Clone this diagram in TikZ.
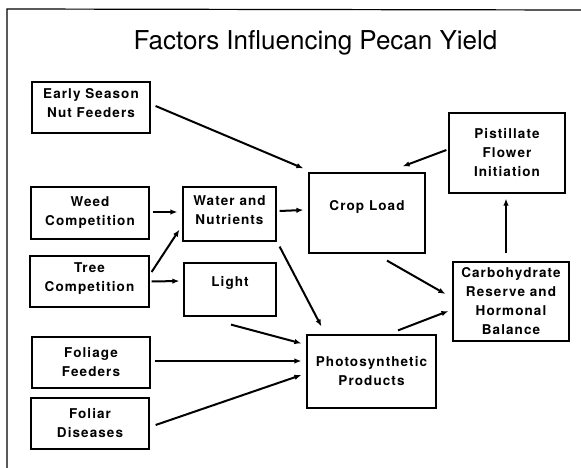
\documentclass[tikz,border=0pt]{standalone}
\usepackage{fontspec}
\setmainfont{TeX Gyre Heros}
\newfontfamily\boxfont[LetterSpace=8]{TeX Gyre Heros}
\usetikzlibrary{arrows.meta}

\tikzset{
  factor/.style={draw, line width=1.2pt, align=center, inner sep=0pt,
    font=\boxfont\bfseries\fontsize{13.5}{19}\selectfont},
  link/.style={line width=2pt, -{Latex[length=7pt,width=5.5pt]}},
  lift/.style={text depth=#1},
}

\begin{document}
\begin{tikzpicture}[x=1pt, y=-1pt]
  \useasboundingbox (0,0) rectangle (581,468);

  % Frame and title
  \draw[line width=1.2pt] (7,468) -- (7,9) -- (581,10);
  \node[font=\fontsize{26}{30}\selectfont, anchor=base] (title) at (315.5,50)
    {Factors Influencing Pecan Yield};

  % Left column
  \node[factor, minimum width=118pt, minimum height=51pt, lift=10pt] (early) at (91,107.5) {Early Season\\Nut Feeders};
  \node[factor, minimum width=118pt, minimum height=52pt] (weed) at (90,213) {Weed\\Competition};
  \node[factor, minimum width=119pt, minimum height=51pt, lift=8pt] (tree) at (89.5,281.5) {Tree\\Competition};
  \node[factor, minimum width=118pt, minimum height=51pt] (foliage) at (91,362.5) {Foliage\\Feeders};
  \node[factor, minimum width=118pt, minimum height=51pt] (foliar) at (90,423.5) {Foliar\\Diseases};

  % Middle
  \node[factor, minimum width=93pt, minimum height=54pt, lift=8pt] (water) at (229.5,214) {Water and\\Nutrients};
  \node[factor, minimum width=92pt, minimum height=53pt, lift=16pt] (light) at (230,289.5) {Light};
  \node[factor, minimum width=116pt, minimum height=80pt, lift=15pt] (crop) at (367,213) {Crop Load};
  \node[factor, minimum width=129pt, minimum height=73pt] (photo) at (371.5,371.5) {Photosynthetic\\Products};

  % Right column
  \node[factor, minimum width=116pt, minimum height=80pt] (pist) at (507,153) {Pistillate\\Flower\\Initiation};
  \node[factor, minimum width=116pt, minimum height=79pt] (carb) at (511,301.5) {Carbohydrate\\Reserve and\\Hormonal\\Balance};

  % Arrows
  \draw[link] ([shift={(5,-1.5)}]early.east) -- ([shift={(-5,-4)}]crop.north west);
  \draw[link] ([shift={(-2,-3)}]pist.west) -- ([shift={(-23,-6)}]crop.north east);
  \draw[link] ([shift={(3,-1)}]weed.east) -- ([shift={(-5,-2)}]water.west);
  \draw[link] ([shift={(2,-9.5)}]tree.east) -- ([shift={(-3,-12)}]water.south west);
  \draw[link] ([shift={(2,0)}]tree.east) -- ([shift={(-4,-8.5)}]light.west);
  \draw[link] ([shift={(3,-3)}]water.east) -- ([shift={(-5,-3)}]crop.west);
  \draw[link] ([shift={(3,5)}]water.south east) -- ([shift={(15,-8)}]photo.north west);
  \draw[link] ([shift={(1,8)}]light.south) -- ([shift={(-5,9)}]photo.north west);
  \draw[link] ([shift={(4,-1.5)}]foliage.east) -- ([shift={(-5,-10.5)}]photo.west);
  \draw[link] ([shift={(6,1.5)}]foliar.east) -- ([shift={(-5,3.5)}]photo.west);
  \draw[link] ([shift={(26.5,-4)}]photo.north) -- ([shift={(-4,9.5)}]carb.west);
  \draw[link] ([shift={(20,7)}]crop.south) -- ([shift={(-7,-7.5)}]carb.west);
  \draw[link] ([shift={(-5,-8)}]carb.north) -- ([shift={(-1,5)}]pist.south);
\end{tikzpicture}
\end{document}
